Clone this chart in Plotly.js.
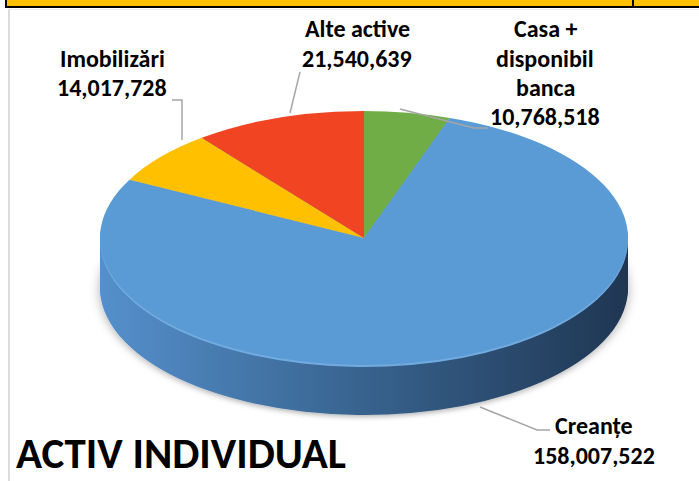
<!DOCTYPE html>
<html>
<head>
<meta charset="utf-8">
<script src="https://cdn.plot.ly/plotly-3.0.1.min.js"></script>
<style>
html,body{margin:0;padding:0;background:#fff;}
#chart{width:699px;height:481px;}
</style>
</head>
<body>
<div id="chart"></div>
<script>
// ---- data ----
const categories = ["Casa + disponibil banca", "Creanțe", "Imobilizări", "Alte active"];
const values = [10768518, 158007522, 14017728, 21540639];
const sliceColors = ["#70ad47", "#5b9bd5", "#ffc000", "#f04423"];
const labelLines = [
  ["Casa +", "disponibil", "banca", "10,768,518"],
  ["Creanțe", "158,007,522"],
  ["Imobilizări", "14,017,728"],
  ["Alte active", "21,540,639"]
];
const chartTitle = "ACTIV INDIVIDUAL";

// ---- geometry / style ----
const W = 699, H = 481;
const px = x => x / W;
const py = y => 1 - y / H;
const CX = 364, CY = 238, RX = 264, RY = 127; // target ellipse of top face
const WALL = 50, STEP = 2;
const R0 = 200;
const FONT = "Carlito, 'Liberation Sans Narrow', 'DejaVu Sans Condensed', 'Liberation Sans', sans-serif";

const domain = {
  x: [px(CX - R0), px(CX + R0)],
  y: [py(CY + R0), py(CY - R0)]
};

const traces = [];
const nWall = Math.round(WALL / STEP);
for (let i = nWall; i >= 1; i--) {
  traces.push({
    type: "pie", labels: categories, values: values, sort: false,
    direction: "clockwise", rotation: 0, domain: domain,
    marker: {colors: ["#3b6794", "#3b6794", "#3b6794", "#3b6794"], line: {width: 0}},
    textinfo: "none", hoverinfo: "skip", showlegend: false, name: "wall" + i
  });
}
traces.push({
  type: "pie", labels: categories, values: values, sort: false,
  direction: "clockwise", rotation: 0, domain: domain,
  marker: {colors: sliceColors, line: {width: 0}},
  textinfo: "none", showlegend: false, name: "top"
});

const annotations = [];
function addLabel(lines, cx, y0, gap) {
  lines.forEach((t, i) => {
    annotations.push({
      xref: "paper", yref: "paper", x: px(cx), y: py(y0 + i * gap),
      xanchor: "center", yanchor: "middle", showarrow: false,
      text: "<b>" + t + "</b>",
      font: {family: FONT, size: 24, color: "#000"}
    });
  });
}
addLabel(labelLines[0], 545, 29, 29.3);
addLabel(labelLines[1], 594, 425, 30);
addLabel(labelLines[2], 112, 58, 29);
addLabel(labelLines[3], 357, 29, 29);
annotations.push({
  xref: "paper", yref: "paper", x: px(14), y: py(453),
  xanchor: "left", yanchor: "middle", showarrow: false,
  text: "<b>" + chartTitle + "</b>",
  font: {family: FONT, size: 43, color: "#000"}
});

const lineStyle = {color: "#a6a6a6", width: 1.5};
function pathShape(pts) {
  return {
    type: "path", xref: "paper", yref: "paper",
    path: pts.map((p, i) => (i ? "L" : "M") + px(p[0]) + "," + py(p[1])).join(" "),
    line: lineStyle
  };
}
const shapes = [
  {type: "rect", xref: "paper", yref: "paper", x0: px(7), x1: 1, y0: py(6), y1: 1, fillcolor: "#ffc000", line: {width: 0}, layer: "below"},
  {type: "line", xref: "paper", yref: "paper", x0: px(5), x1: 1, y0: py(7), y1: py(7), line: {color: "#000", width: 2}},
  {type: "line", xref: "paper", yref: "paper", x0: px(6), x1: px(6), y0: 1, y1: py(8), line: {color: "#000", width: 2}},
  {type: "line", xref: "paper", yref: "paper", x0: px(633), x1: px(633), y0: 1, y1: py(8), line: {color: "#000", width: 2}},
  {type: "line", xref: "paper", yref: "paper", x0: px(9), x1: px(9), y0: py(9), y1: 0, line: {color: "#dcdcdc", width: 2}},
  {type: "line", xref: "paper", yref: "paper", x0: px(9), x1: 1, y0: py(9.5), y1: py(9.5), line: {color: "#ececec", width: 1}},
  pathShape([[172, 100], [182, 100], [182, 140]]),
  pathShape([[300, 72], [290, 113]]),
  pathShape([[400, 109], [474, 128], [488, 128]]),
  pathShape([[480, 407], [537, 430], [550, 430]])
];

const layout = {
  width: W, height: H,
  margin: {l: 0, r: 0, t: 0, b: 0},
  paper_bgcolor: "#ffffff", plot_bgcolor: "#ffffff",
  showlegend: false,
  annotations: annotations, shapes: shapes
};

Plotly.newPlot("chart", traces, layout, {staticPlot: true, displayModeBar: false}).then(gd => {
  const svg = gd.querySelector("svg.main-svg");
  const NS = "http://www.w3.org/2000/svg";
  const groups = gd.querySelectorAll(".pielayer g.trace");
  let defs = svg.querySelector("defs");
  if (!defs) { defs = document.createElementNS(NS, "defs"); svg.insertBefore(defs, svg.firstChild); }
  const f = document.createElementNS(NS, "filter");
  f.setAttribute("id", "pieShadow");
  f.setAttribute("x", "-10%"); f.setAttribute("y", "-10%");
  f.setAttribute("width", "120%"); f.setAttribute("height", "130%");
  const ds = document.createElementNS(NS, "feDropShadow");
  ds.setAttribute("dx", "0"); ds.setAttribute("dy", "3");
  ds.setAttribute("stdDeviation", "4"); ds.setAttribute("flood-color", "#000");
  ds.setAttribute("flood-opacity", "0.3");
  f.appendChild(ds); defs.appendChild(f);

  groups.forEach((g, idx) => {
    const bb = g.getBBox();
    const bcx = bb.x + bb.width / 2, bcy = bb.y + bb.height / 2;
    const r = bb.width / 2;
    const isTop = idx === groups.length - 1;
    const off = isTop ? 0 : (nWall - idx) * STEP;
    g.setAttribute("transform",
      `translate(${CX},${CY + off}) scale(${RX / r},${RY / r}) translate(${-bcx},${-bcy})`);
    if (!isTop) {
      if (idx === 0) {
        const lg = document.createElementNS(NS, "linearGradient");
        lg.setAttribute("id", "wallGrad");
        lg.setAttribute("gradientUnits", "userSpaceOnUse");
        lg.setAttribute("x1", bb.x); lg.setAttribute("x2", bb.x + bb.width);
        lg.setAttribute("y1", 0); lg.setAttribute("y2", 0);
        [["0", "#5590cc"], ["0.45", "#3a6794"], ["1", "#1f3652"]].forEach(s => {
          const st = document.createElementNS(NS, "stop");
          st.setAttribute("offset", s[0]); st.setAttribute("stop-color", s[1]);
          lg.appendChild(st);
        });
        defs.appendChild(lg);
        g.setAttribute("filter", "url(#pieShadow)");
      }
      const rim = idx === groups.length - 2;
      g.querySelectorAll("path").forEach(p => { p.style.fill = rim ? "#72abe0" : "url(#wallGrad)"; });
    }
  });
});
</script>
</body>
</html>
